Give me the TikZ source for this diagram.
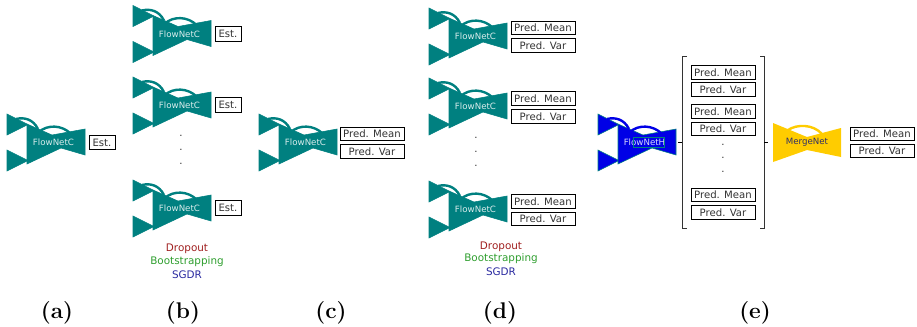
\documentclass[tikz,border=0pt]{standalone}
\usepackage{fontspec}
\setsansfont{DejaVu Sans}
\definecolor{netteal}{HTML}{008080}
\definecolor{netblue}{HTML}{0000E6}
\definecolor{netgold}{HTML}{FFCC00}
\definecolor{mergetext}{HTML}{2F2F66}
\definecolor{dropred}{HTML}{A02020}
\definecolor{bootgreen}{HTML}{2E9E2E}
\definecolor{sgdrblue}{HTML}{2A2AA0}
\tikzset{
    outbox/.style={draw=black,line width=.65pt,inner sep=0pt,minimum height=10pt,
        font=\sffamily\fontsize{7.6}{8}\selectfont,text=black!80},
    predbox/.style={outbox,minimum width=48pt},
    estbox/.style={outbox,minimum width=19.5pt,minimum height=11pt},
    dotlabel/.style={font=\sffamily\fontsize{7.6}{8}\selectfont,text=black!80,inner sep=0pt},
    methodlabel/.style={font=\sffamily\fontsize{7.8}{9}\selectfont,inner sep=0pt},
    panellabel/.style={font=\bfseries\fontsize{17}{19}\selectfont,inner sep=0pt},
    pics/flownet/.style n args={3}{code={
        \fill[#1,draw=#3,line width=.4pt] (0,0)--(20,10)--(20,11)--(0,21)--cycle;
        \fill[#1,draw=#3,line width=.4pt] (0,36)--(20,46)--(20,47)--(0,57)--cycle;
        \fill[#1,draw=#3,line width=.4pt] (20,10)--(45,21)--(78,15)--(78,41)--(54,34)--(20,50)--cycle;
        \draw[#1,line width=1.8pt] (9,5) .. controls (17,3) and (26,5) .. (31,15);
        \draw[#1,line width=1.8pt] (32,18) .. controls (40,10.5) and (55,10.5) .. (64,20);
        \node[font=\sffamily\fontsize{6.5}{7}\selectfont,text=white!85!#1,inner sep=0pt] (-label) at (46.5,28.5) {#2};
    }},
    pics/mergenet/.style={code={
        \fill[netgold] (0,0)--(34,14)--(68,5)--(68,34)--(34,27)--(0,39)--cycle;
        \draw[netgold,line width=1.8pt] (15,7) .. controls (24,1) and (40,1) .. (49,11);
        \node[font=\sffamily\fontsize{6.5}{7}\selectfont,text=mergetext,inner sep=0pt] (-label) at (34,19) {MergeNet};
    }},
}
\begin{document}
\begin{tikzpicture}[x=.75pt,y=-.75pt]
    \useasboundingbox (0,0) rectangle (917,326);
    % (a)
    \pic (neta) at (7,114) {flownet={netteal}{FlowNetC}{netteal}};
    \node[estbox] (esta) at (102,142.5) {Est.};
    \node[panellabel] (capa) at (57,313) {(a)};
    % (b)
    \pic (netba) at (133,5.5) {flownet={netteal}{FlowNetC}{netteal}};
    \pic (netbb) at (133,77) {flownet={netteal}{FlowNetC}{netteal}};
    \pic (netbc) at (133,180) {flownet={netteal}{FlowNetC}{netteal}};
    \node[estbox] (estba) at (228,34) {Est.};
    \node[estbox] (estbb) at (228,105) {Est.};
    \node[estbox] (estbc) at (228,208) {Est.};
    \foreach \y/\n in {136/a,150/b,164/c}
        \node[dotlabel] (dotb\n) at (181,\y) {.};
    \node[methodlabel,dropred] (dropb) at (187,249) {Dropout};
    \node[methodlabel,bootgreen] (bootb) at (187,262) {Bootstrapping};
    \node[methodlabel,sgdrblue] (sgdrb) at (187,275) {SGDR};
    \node[panellabel] (capb) at (183,313) {(b)};
    % (c)
    \pic (netc) at (259,114) {flownet={netteal}{FlowNetC}{netteal}};
    \node[predbox] (meanc) at (372,134) {Pred. Mean};
    \node[predbox] (varc) at (372,151.5) {Pred. Var};
    \node[panellabel] (capc) at (331,313) {(c)};
    % (d)
    \pic (netda) at (429,8) {flownet={netteal}{FlowNetC}{netteal}};
    \pic (netdb) at (429,78) {flownet={netteal}{FlowNetC}{netteal}};
    \pic (netdc) at (429,181) {flownet={netteal}{FlowNetC}{netteal}};
    \node[predbox] (meanda) at (543,28) {Pred. Mean};
    \node[predbox] (varda) at (543,45.5) {Pred. Var};
    \node[predbox] (meandb) at (543,98.5) {Pred. Mean};
    \node[predbox] (vardb) at (543,116.5) {Pred. Var};
    \node[predbox] (meandc) at (543,201.5) {Pred. Mean};
    \node[predbox] (vardc) at (543,219) {Pred. Var};
    \foreach \y/\n in {138/a,152/b,166/c}
        \node[dotlabel] (dotd\n) at (476,\y) {.};
    \node[methodlabel,dropred] (dropd) at (501,247) {Dropout};
    \node[methodlabel,bootgreen] (bootd) at (501,259) {Bootstrapping};
    \node[methodlabel,sgdrblue] (sgdrd) at (501,272) {SGDR};
    \node[panellabel] (capd) at (500,313) {(d)};
    % (e)
    \pic (neth) at (598,114) {flownet={netblue}{FlowNetH}{netteal}};
    \draw[netteal,line width=.3pt] (633,137) rectangle (664,147);
    \node[predbox] (meanea) at (723,72.5) {Pred. Mean};
    \node[predbox] (varea) at (723,89.5) {Pred. Var};
    \node[predbox] (meaneb) at (723,111.5) {Pred. Mean};
    \node[predbox] (vareb) at (723,129) {Pred. Var};
    \node[predbox] (meanec) at (723,195) {Pred. Mean};
    \node[predbox] (varec) at (723,212.5) {Pred. Var};
    \foreach \y/\n in {145/a,158/b,172/c}
        \node[dotlabel] (dote\n) at (723,\y) {.};
    \coordinate (brl) at (682,142);
    \coordinate (brr) at (764,142);
    \draw[black!80,line width=.7pt] (687,56) -| (682,228) -- (687,228);
    \draw[black!80,line width=.7pt] (760,56) -| (764,228) -- (760,228);
    \coordinate (nethout) at (678,142);
    \coordinate (mergein) at (768,142);
    \draw[black,line width=.6pt] (nethout) -- (brl);
    \draw[black,line width=.6pt] (brr) -- (mergein);
    \pic (merge) at (773,123) {mergenet};
    \node[predbox] (meane) at (882,134) {Pred. Mean};
    \node[predbox] (vare) at (882,151) {Pred. Var};
    \node[panellabel] (cape) at (755,313) {(e)};
\end{tikzpicture}
\end{document}
